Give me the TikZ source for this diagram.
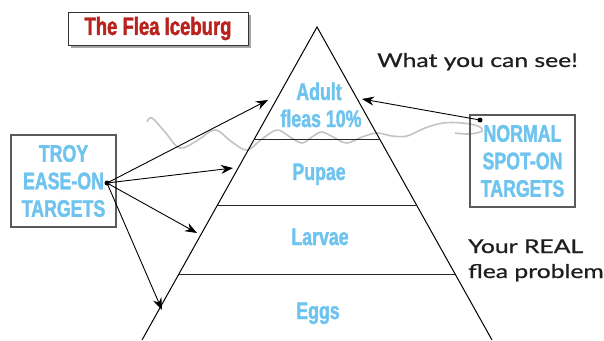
\documentclass[tikz,border=0pt]{standalone}
\usepackage{fontspec}
\setmainfont{Liberation Sans}
\newfontfamily\condfont{LiberationSans-Bold}[Extension=.ttf, FakeStretch=0.74, FakeBold=1.6]
\newfontfamily\handfont{Lato}[FakeStretch=1.3, FakeBold=0.8]
\usetikzlibrary{arrows.meta}
\definecolor{fleablue}{RGB}{110,196,238}
\definecolor{fleared}{RGB}{185,35,30}
\definecolor{boxgray}{RGB}{90,90,90}
\definecolor{wavegray}{RGB}{195,195,195}
\definecolor{handink}{RGB}{30,30,30}
\tikzset{
  layer/.style={text=fleablue, font=\condfont\fontsize{24}{27}\selectfont, inner sep=0pt, anchor=base},
  target/.style={draw=boxgray, line width=1.1pt, text=fleablue, align=center,
    font=\condfont\fontsize{24}{27.5}\selectfont, inner sep=0pt},
  hand/.style={text=handink, font=\handfont\fontsize{19}{25}\selectfont, inner sep=0pt, anchor=base west, align=left},
  arr/.style={line width=0.9pt, -{Stealth[length=12pt,width=9pt]}},
  dot/.style={circle, fill=black, inner sep=0pt, minimum size=5pt},
  tier/.style={line width=1pt, draw=black!85}
}
\begin{document}
\begin{tikzpicture}[x=1pt,y=-1pt]
\useasboundingbox (0,0) rectangle (604,340);
% wave (behind)
\draw[wavegray, line width=1.6pt] plot[smooth, tension=0.6] coordinates
 {(147,122) (152,118) (165,132) (180,148) (198,140) (215,130) (232,142) (247,150) (262,139) (277,130) (290,137) (302,143) (312,137) (322,132) (335,138) (347,143) (362,137) (377,133) (392,136) (407,136) (425,128) (443,123) (462,123) (478,126) (482,131) (470,134) (455,133)};
% pyramid
\coordinate (apex) at (317,27);
\coordinate (bl) at (142,340);
\coordinate (br) at (492,340);
\draw[line width=1pt] (bl) -- (apex) -- (br);
\coordinate (t1l) at (254.6,139); \coordinate (t1r) at (379.4,139);
\coordinate (t2l) at (217.7,205); \coordinate (t2r) at (416.3,205);
\coordinate (t3l) at (179.1,274); \coordinate (t3r) at (454.9,274);
\draw[tier] (t1l) -- (t1r);
\draw[tier] (t2l) -- (t2r);
\draw[tier] (t3l) -- (t3r);
% layer labels
\node[layer] (adult) at (319,100) {Adult};
\node[layer] (fleas) at (321,127) {fleas 10\%};
\node[layer] (pupae) at (319,180) {Pupae};
\node[layer] (larvae) at (320,245) {Larvae};
\node[layer] (eggs) at (318,319) {Eggs};
% title
\fill[gray!70] (70.5,14.5) rectangle (250.5,47.5);
\node[draw=black!80, fill=white, line width=0.9pt, minimum width=180pt, minimum height=33pt, inner sep=0pt,
  text=fleared, font=\condfont\fontsize{25}{28}\selectfont] (title) at (158,28.5) {The Flea Iceburg};
% target boxes
\node[target, minimum width=105pt, minimum height=92pt] (troy) at (63.5,181) {TROY\\EASE-ON\\TARGETS};
\node[target, minimum width=105pt, minimum height=92pt] (normal) at (522.5,161) {NORMAL\\SPOT-ON\\TARGETS};
\node[dot] (tdot) at (107,183) {};
\node[dot] (ndot) at (480,120) {};
% arrow targets
\coordinate (a1) at (268,100);
\coordinate (a2) at (233,168);
\coordinate (a3) at (197,233);
\coordinate (a4) at (162,310);
\coordinate (a5) at (362,99);
\draw[arr] (tdot.center) -- (a1);
\draw[arr] (tdot.center) -- (a2);
\draw[arr] (tdot.center) -- (a3);
\draw[arr] (tdot.center) -- (a4);
\draw[arr] (ndot.center) -- (a5);
% handwritten notes
\node[hand] (see) at (377,67) {What you can see!};
\node[hand] (real) at (468,278) {Your REAL\\flea problem};
\end{tikzpicture}
\end{document}
